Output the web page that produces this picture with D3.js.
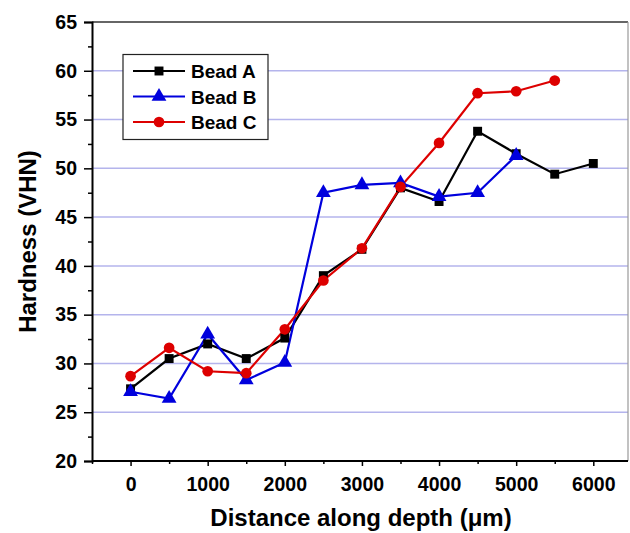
<!DOCTYPE html>
<html><head><meta charset="utf-8">
<script src="https://cdn.jsdelivr.net/npm/d3@7"></script>
<style>body{margin:0;background:#fff}svg{display:block}text{font-family:"Liberation Sans",Arial,sans-serif;font-weight:bold}</style>
</head><body>
<svg id="c" width="630" height="533"></svg>
<script>
const depths = [0,500,1000,1500,2000,2500,3000,3500,4000,4500,5000,5500,6000];
const beadA = [27.4,30.5,32.0,30.5,32.6,39.0,41.7,48.0,46.6,53.8,51.5,49.4,50.5];
const beadB = [27.1,26.4,33.0,28.3,30.1,47.5,48.3,48.5,47.1,47.5,51.3];
const beadC = [28.7,31.6,29.2,29.0,33.5,38.5,41.8,48.1,52.6,57.7,57.9,59.0];
const seriesNames = ["Bead A","Bead B","Bead C"];
const seriesColors = ["#000000","#0000dd","#dd0000"];
const xTicks = [0,1000,2000,3000,4000,5000,6000];
const yTicks = [20,25,30,35,40,45,50,55,60,65];

const svg = d3.select("#c");
const L=92,R=628,T=22,B=461;
const x = d3.scaleLinear().domain([-500,6450]).range([L,R]);
const y = d3.scaleLinear().domain([20,65]).range([B,T]);

// gridlines
svg.append("g").selectAll("line").data(yTicks.filter(v=>v>20&&v<65)).join("line")
  .attr("x1",L).attr("x2",R).attr("y1",d=>y(d)).attr("y2",d=>y(d))
  .attr("stroke","#b4b4ec").attr("stroke-width",1.5);

// frame top/right
svg.append("line").attr("x1",L).attr("x2",R).attr("y1",T).attr("y2",T).attr("stroke","#333").attr("stroke-width",1.5);
svg.append("line").attr("x1",R).attr("x2",R).attr("y1",T).attr("y2",B).attr("stroke","#999").attr("stroke-width",1.2);

// y axis
const ya = svg.append("g").attr("transform",`translate(${L},0)`)
  .call(d3.axisLeft(y).tickValues(yTicks).tickSize(8).tickPadding(7).tickFormat(d3.format("d")));
ya.select(".domain").attr("stroke","#000").attr("stroke-width",2);
ya.selectAll(".tick line").attr("stroke-width",1.5);
ya.selectAll("text").attr("font-size",19.5).attr("fill","#000").style("font-family",'"Liberation Sans",Arial,sans-serif');
svg.append("g").attr("transform",`translate(${L},0)`)
  .call(d3.axisLeft(y).tickValues(d3.range(22.5,65,5)).tickSize(4).tickFormat(""))
  .call(g=>{g.select(".domain").remove();g.selectAll(".tick line").attr("stroke-width",1.5);});

// x axis
const xa = svg.append("g").attr("transform",`translate(0,${B})`)
  .call(d3.axisBottom(x).tickValues(xTicks).tickSize(5).tickPadding(11).tickFormat(d3.format("d")));
xa.select(".domain").attr("stroke","#000").attr("stroke-width",2).attr("d",`M${L},0H${R}`);
xa.selectAll(".tick line").attr("stroke-width",1.5);
xa.selectAll("text").attr("font-size",19.5).attr("fill","#000").style("font-family",'"Liberation Sans",Arial,sans-serif');
svg.append("g").attr("transform",`translate(0,${B})`)
  .call(d3.axisBottom(x).tickValues([-500,500,1500,2500,3500,4500,5500]).tickSize(3).tickFormat(""))
  .call(g=>{g.select(".domain").remove();g.selectAll(".tick line").attr("stroke-width",1.5);});

// titles
svg.append("text").attr("x",361).attr("y",526).attr("text-anchor","middle").attr("font-size",24)
  .text("Distance along depth (μm)");
svg.append("text").attr("transform",`translate(36,${(T+B)/2}) rotate(-90)`).attr("text-anchor","middle").attr("font-size",24)
  .text("Hardness (VHN)");

const allSeries = [beadA,beadB,beadC];
const line = d3.line().x((d,i)=>x(depths[i])).y(d=>y(d));
const sym = [d3.symbolSquare,d3.symbolTriangle,d3.symbolCircle];
const symSize = [80,95,90];

allSeries.forEach((vals,k)=>{
  svg.append("path").datum(vals).attr("d",line).attr("fill","none")
    .attr("stroke",seriesColors[k]).attr("stroke-width",2.2);
});
allSeries.forEach((vals,k)=>{
  svg.append("g").selectAll("path").data(vals).join("path")
    .attr("transform",(d,i)=>`translate(${x(depths[i])},${y(d)})`)
    .attr("d",d3.symbol().type(sym[k]).size(symSize[k]))
    .attr("fill",seriesColors[k]);
});

// legend
const lg = svg.append("g");
lg.append("rect").attr("x",123).attr("y",54.5).attr("width",145).attr("height",85)
  .attr("fill","#fff").attr("stroke","#222").attr("stroke-width",1.2);
seriesNames.forEach((n,k)=>{
  const yy = 71 + k*25.5;
  lg.append("line").attr("x1",133).attr("x2",185).attr("y1",yy).attr("y2",yy)
    .attr("stroke",seriesColors[k]).attr("stroke-width",2.2);
  lg.append("path").attr("transform",`translate(159,${yy})`)
    .attr("d",d3.symbol().type(sym[k]).size(symSize[k])).attr("fill",seriesColors[k]);
  lg.append("text").attr("x",191).attr("y",yy+7).attr("font-size",19).text(n);
});
</script>
</body></html>
